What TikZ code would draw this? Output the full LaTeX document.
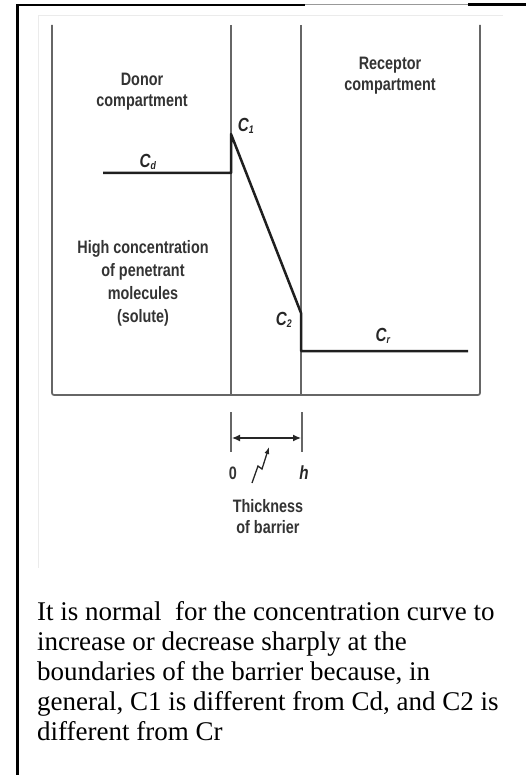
\documentclass[tikz,border=0pt]{standalone}
\usepackage{fontspec}
\setmainfont{Liberation Serif}
\newfontfamily\labelfont[FakeStretch=0.8]{Liberation Sans}
\usetikzlibrary{arrows.meta}

\tikzset{
  wall/.style={draw=black!60, line width=1.7pt},
  curve/.style={draw=black!88, line width=2.5pt, line join=round},
  lbl/.style={font=\labelfont\bfseries\fontsize{18}{21}\selectfont, text=black!80,
              align=center, inner sep=0pt},
  conc/.style={font=\labelfont\bfseries\itshape\fontsize{19}{20}\selectfont,
               text=black!85, inner sep=0pt},
}
\newcommand{\conc}[2]{#1\textsubscript{\fontsize{11}{11}\selectfont #2}}

\begin{document}
\begin{tikzpicture}[x=1pt, y=-1pt]
  \useasboundingbox (0,0) rectangle (526,775);

  % ---- page frame and faint picture edge ----
  \draw[line width=2.4pt] (17.5,775) -- (17.5,5) -- (305,5);
  \draw[black!40, line width=0.6pt] (305,4.5) -- (468,4.5);
  \draw[line width=2.4pt] (468,4.5) -- (526,4.5);
  \draw[black!8, line width=0.8pt] (38,568) -- (38,15) -- (503,15);

  % ---- compartments and barrier ----
  \coordinate (wallA) at (52,25);
  \coordinate (wallB) at (231,25);
  \coordinate (wallC) at (301,25);
  \coordinate (wallD) at (480,25);
  \draw[wall, rounded corners=2pt] (wallA) -- (52,395) -- (480,395) -- (wallD);
  \draw[wall] (wallB) -- (231,395);
  \draw[wall] (wallC) -- (301,395);

  % ---- concentration profile ----
  \coordinate (cdStart) at (103,173);
  \coordinate (cdEnd)   at (231,173);
  \coordinate (cOne)    at (231,134);
  \coordinate (cTwo)    at (301,313);
  \coordinate (crStart) at (301,351);
  \coordinate (crEnd)   at (468,351);
  \draw[curve] (cdStart) -- (cdEnd) -- (cOne) -- (cTwo) -- (crStart) -- (crEnd);

  % ---- labels ----
  \node[lbl] (donor) at (142,92) {Donor\\compartment};
  \node[lbl] (receptor) at (390,76) {Receptor\\compartment};
  \node[lbl, font=\labelfont\bfseries\fontsize{18}{23}\selectfont] (solute) at (143,283)
       {High concentration\\of penetrant\\molecules\\(solute)};
  \node[conc] (labelCd) at (148,162) {\conc{C}{d}};
  \node[conc] (labelC1) at (246,126) {\conc{C}{1}};
  \node[conc] (labelC2) at (284,320) {\conc{C}{2}};
  \node[conc] (labelCr) at (383,336) {\conc{C}{r}};

  % ---- barrier thickness ----
  \coordinate (tickL) at (231,412);
  \coordinate (tickR) at (302,412);
  \draw[wall, line width=1.5pt] (tickL) -- (231,452);
  \draw[wall, line width=1.5pt] (tickR) -- (302,452);
  \draw[black!85, line width=1.3pt, {Latex[length=8pt,width=7pt]}-{Latex[length=8pt,width=7pt]}]
       (232,438) -- (301,438);
  \draw[black!85, line width=1.3pt, -{Latex[length=7pt,width=5pt]}]
       (252,483) -- (258,466) -- (262,469) -- (269,447);
  \node[lbl] (zero) at (233,473) {0};
  \node[conc] (hlabel) at (304,473) {h};
  \node[lbl] (thickness) at (268,517) {Thickness\\of barrier};

  % ---- caption ----
  \node[anchor=north west, inner sep=0pt, align=left,
        font=\fontsize{27}{30}\selectfont] (caption) at (37,601)
       {It is normal\ \ for the concentration curve to\\
        increase or decrease sharply at the\\
        boundaries of the barrier because, in\\
        general, C1 is different from Cd, and C2 is\\
        different from Cr};
\end{tikzpicture}
\end{document}
